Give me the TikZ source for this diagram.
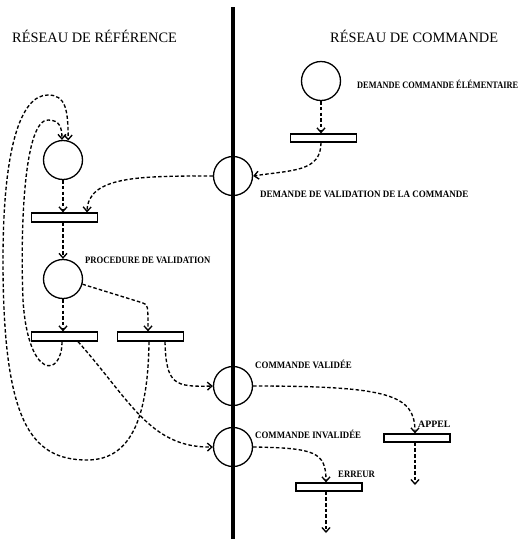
\documentclass[tikz,border=0pt]{standalone}
\usepackage{graphicx}
\usepackage{fontspec}
\setmainfont{Liberation Serif}
\usetikzlibrary{arrows.meta}
\begin{document}
\begin{tikzpicture}[x=1pt,y=-1pt,
  place/.style={circle,draw,line width=1.3pt,minimum size=39pt,inner sep=0pt},
  trans/.style={rectangle,draw,line width=1.2pt,minimum width=66pt,minimum height=9pt,inner sep=0pt},
  arc/.style={dash pattern=on 3.5pt off 2.2pt,line width=1.35pt,-{Straight Barb[length=4.5pt,width=8pt]}},
  title/.style={font=\fontsize{14.4}{16}\selectfont,anchor=base west,inner sep=0pt},
  lbl/.style={font=\fontsize{9.8}{11}\selectfont\bfseries,anchor=base west,inner sep=0pt},
  divider/.style={line width=3.5pt}
]
\useasboundingbox (0,0) rectangle (519,539);

% boundary between the two nets
\coordinate (divTop) at (233,7);
\coordinate (divBot) at (233,539);
\draw[divider] (divTop) -- (divBot);

% titles
\node[title] (tRef) at (12,42) {RÉSEAU DE RÉFÉRENCE};
\node[title] (tCmd) at (330,42) {RÉSEAU DE COMMANDE};

% places
\node[place] (pDCE) at (321,81) {};
\node[place] (pDV)  at (233,176) {};
\node[place] (p1)   at (63,160) {};
\node[place] (p2)   at (63,279) {};
\node[place] (pCV)  at (233,386) {};
\node[place] (pCI)  at (233,447) {};

% transitions
\node[trans,minimum height=8pt] (tDCE) at (323.5,138) {};
\node[trans] (t1)  at (64.5,217.5) {};
\node[trans] (t2)  at (64.5,336.5) {};
\node[trans] (t3)  at (150.5,336.5) {};
\node[trans,minimum height=8pt] (tAP) at (417,438) {};
\node[trans,minimum height=8pt] (tER) at (329,487) {};

\coordinate (apEnd) at (415,485);
\coordinate (erEnd) at (326,533);

% labels
\node[lbl] (lDCE) at (357,88)  {\scalebox{0.85}[1]{DEMANDE COMMANDE ÉLÉMENTAIRE}};
\node[lbl] (lDV)  at (260,197) {\scalebox{0.92}[1]{DEMANDE DE VALIDATION DE LA COMMANDE}};
\node[lbl] (lPV)  at (85,263)  {\scalebox{0.88}[1]{PROCEDURE DE VALIDATION}};
\node[lbl] (lCV)  at (255,368) {\scalebox{0.905}[1]{COMMANDE VALIDÉE}};
\node[lbl] (lCI)  at (255,438) {\scalebox{0.9}[1]{COMMANDE INVALIDÉE}};
\node[lbl] (lAP)  at (418,427) {APPEL};
\node[lbl] (lER)  at (338,477) {\scalebox{0.89}[1]{ERREUR}};

% command net arcs
\draw[arc] (pDCE.south) -- (pDCE.south |- tDCE.north);
\draw[arc] (tDCE.south -| pDCE.south) .. controls (321,172) and (292,170) .. (pDV.east);
\draw[arc] (pDV.west) .. controls (140,176) and (88,176) .. ([xshift=22.5pt]t1.north);

% reference net arcs
\draw[arc] (p1.south) -- (p1.south |- t1.north);
\draw[arc] (t1.south -| p2.north) -- (p2.north);
\draw[arc] (p2.south) -- (p2.south |- t2.north);
\draw[arc] (p2.-15) -- (143,303) .. controls (148,305) .. ([xshift=-2.5pt]t3.north);

% loops back to the first place
\draw[arc] ([xshift=-2.5pt]t2.south) .. controls (62,378) and (28,380) .. (23,300)
  .. controls (20,220) and (25,120) .. (48,120)
  .. controls (60,120) and (62,128) .. (p1.93);
\draw[arc] ([xshift=-1.5pt]t3.south) .. controls (148,420) and (130,460) .. (87,460)
  .. controls (30,460) and (3,420) .. (3,260)
  .. controls (3,150) and (20,95) .. (48,95)
  .. controls (66,95) and (68,110) .. (p1.75);

% outcomes of the validation
\draw[arc] ([xshift=14.5pt]t3.south) .. controls (166,385) and (175,387) .. (pCV.west);
\draw[arc] ([xshift=13.5pt]t2.south) .. controls (130,400) and (150,448) .. (pCI.west);

\draw[arc] (pCV.east) .. controls (390,386) and (415,395) .. ([xshift=-2pt]tAP.north);
\draw[arc] ([xshift=-2pt]tAP.south) -- (apEnd);
\draw[arc] (pCI.east) .. controls (315,448) and (326,452) .. ([xshift=-3pt]tER.north);
\draw[arc] ([xshift=-3pt]tER.south) -- (erEnd);
\end{tikzpicture}
\end{document}
